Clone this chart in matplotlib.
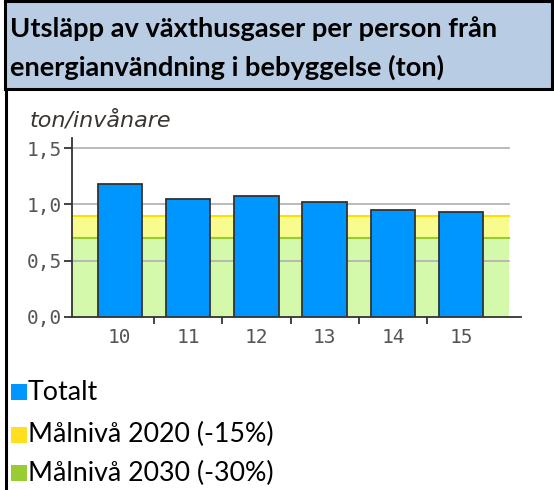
import matplotlib
matplotlib.use("Agg")
import matplotlib.pyplot as plt
from matplotlib.patches import Rectangle
from matplotlib.lines import Line2D

# data
years = ['10', '11', '12', '13', '14', '15']
totalt = [1.18, 1.05, 1.07, 1.02, 0.95, 0.93]
mal_2020 = 0.90
mal_2030 = 0.70
yticks = [0.0, 0.5, 1.0, 1.5]
ytick_labels = ['0,0', '0,5', '1,0', '1,5']
legend_labels = ['Totalt', 'Målnivå 2020 (-15%)', 'Målnivå 2030 (-30%)']

W, H = 554, 490
fig = plt.figure(figsize=(W / 100, H / 100), dpi=100)


def fx(px):
    return px / W


def fy(py):
    return 1 - py / H


# header box + left frame line
fig.add_artist(Rectangle((fx(5), fy(89)), fx(552) - fx(5), fy(1.5) - fy(89),
                         transform=fig.transFigure, fc='#b8cce4', ec='black', lw=2.2))
fig.add_artist(Line2D([fx(5.5), fx(5.5)], [0, fy(89)], transform=fig.transFigure,
                      color='black', lw=2.2))
fig.text(fx(10), fy(29), 'Utsläpp av växthusgaser per person från',
         fontsize=19.6, fontweight='bold', family='Lato', va='center', ha='left')
fig.text(fx(10), fy(67), 'energianvändning i bebyggelse (ton)',
         fontsize=19.6, fontweight='bold', family='Lato', va='center', ha='left')

# chart
left, right, bottom, top = 72, 520.7, 316.7, 138
ax = fig.add_axes([fx(left), fy(bottom), fx(right) - fx(left), fy(top) - fy(bottom)])
x = list(range(len(years)))
ax.set_xlim(-0.70, 5.87)
ax.set_ylim(0, 1.59)
band_end = (509 - left) / (right - left)

ax.axhspan(0, mal_2030, xmin=0, xmax=band_end, fc='#d4f9aa', ec='none', zorder=0)
ax.axhspan(mal_2030, mal_2020, xmin=0, xmax=band_end, fc='#f8fb8e', ec='none', zorder=0)
ax.axhline(mal_2030, xmin=0, xmax=band_end, color='#99cc33', lw=1.5, zorder=1)
ax.axhline(mal_2020, xmin=0, xmax=band_end, color='#ffe000', lw=1.5, zorder=1)
for yv in yticks[1:]:
    ax.axhline(yv, xmin=0, xmax=band_end, color='#b4b4b4', lw=1.3, zorder=1.5)

ax.bar(x, totalt, width=0.65, color='#0096ff', edgecolor='#333333', linewidth=1.3, zorder=3)

for s in ['top', 'right']:
    ax.spines[s].set_visible(False)
for s in ['left', 'bottom']:
    ax.spines[s].set_color('#333333')
    ax.spines[s].set_linewidth(1.3)

ax.set_yticks(yticks)
ax.set_yticklabels(ytick_labels, family='DejaVu Sans Mono')
ax.set_xticks(x)
ax.set_xticklabels(years, family='DejaVu Sans Mono')
ax.set_xticks([i + 0.5 for i in x[:-1]], minor=True)
ax.tick_params(axis='x', which='major', length=0, pad=8, labelsize=14, labelcolor='#555555')
ax.tick_params(axis='x', which='minor', length=5, width=1.3, color='#333333')
ax.tick_params(axis='y', length=6, width=1.3, color='#333333', pad=1,
               labelsize=14, labelcolor='#555555')

fig.text(fx(30), fy(120), 'ton/invånare', fontsize=16, style='italic',
         color='#3a3530', va='center', ha='left')

# legend
leg_colors = ['#0096ff', '#ffe020', '#99cc33']
leg_y = [392, 434.5, 473]
for lab, col, yc in zip(legend_labels, leg_colors, leg_y):
    fig.add_artist(Rectangle((fx(11), fy(yc + 8)), fx(16), 16 / H,
                             transform=fig.transFigure, fc=col, ec='none'))
    fig.text(fx(28), fy(yc), lab, fontsize=19.3, family='Lato', va='center', ha='left')

fig.savefig('out.png', dpi=100)
